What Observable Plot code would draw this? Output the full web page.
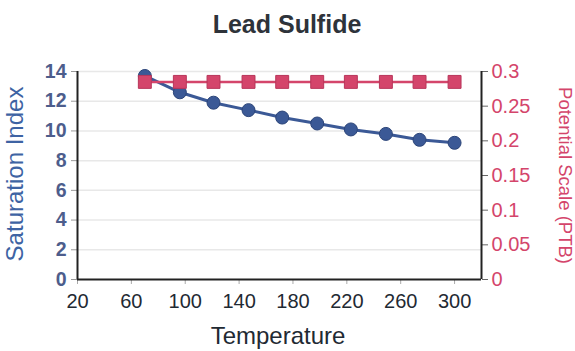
<!DOCTYPE html>
<html><head><meta charset="utf-8">
<script src="https://cdn.jsdelivr.net/npm/d3@7"></script>
<script src="https://cdn.jsdelivr.net/npm/@observablehq/plot@0.6"></script>
<style>html,body{margin:0;padding:0;background:#fff}</style>
</head><body><div id="chart"></div>
<script>
const title = "Lead Sulfide";
const xLabel = "Temperature";
const yLabel = "Saturation Index";
const y2Label = "Potential Scale (PTB)";
const temperature = [70, 96, 121, 147, 172, 198, 223, 249, 274, 300];
const saturationIndex = [13.7, 12.6, 11.9, 11.4, 10.9, 10.5, 10.1, 9.8, 9.4, 9.2];
const potentialScale = [0.285, 0.285, 0.285, 0.285, 0.285, 0.285, 0.285, 0.285, 0.285, 0.285];
const xTicks = [20, 60, 100, 140, 180, 220, 260, 300];
const yTicks = [0, 2, 4, 6, 8, 10, 12, 14];
const y2Ticks = [0, 0.05, 0.1, 0.15, 0.2, 0.25, 0.3];

const blue = "#3b5996";
const red = "#d4456b";
const yMax = 14, y2Max = 0.3;
const toY = v => v * yMax / y2Max;

const rows = temperature.map((t, i) => ({t, si: saturationIndex[i], ps: potentialScale[i]}));

const chart = Plot.plot({
  width: 575,
  height: 351,
  marginLeft: 77,
  marginRight: 94,
  marginTop: 71,
  marginBottom: 72,
  style: {fontFamily: "'Liberation Sans', Arial, sans-serif", background: "#fff"},
  x: {domain: [20, 320]},
  y: {domain: [0, yMax]},
  marks: [
    Plot.gridY(yTicks.slice(1), {stroke: "#e8e8e8", strokeOpacity: 1, strokeWidth: 1.5}),
    Plot.axisY(yTicks, {anchor: "left", tickSize: 6, tickPadding: 5, fontSize: 19.5, fontWeight: "bold",
      fill: "#4d5d8c", stroke: "#999", label: null}),
    Plot.axisY(y2Ticks, {anchor: "right", y: toY, tickFormat: d => String(d), tickSize: 6, tickPadding: 4,
      fontSize: 20, fill: red, stroke: "#666", label: null}),
    Plot.axisX(xTicks, {anchor: "bottom", tickSize: 5, tickPadding: 9, fontSize: 20, fill: "#1f2a33",
      stroke: "#aaa", label: null}),
    Plot.ruleY([0], {stroke: "#222", strokeWidth: 2}),
    Plot.ruleX([20], {stroke: "#222", strokeWidth: 2}),
    Plot.ruleX([320], {stroke: "#222", strokeWidth: 2}),
    Plot.line(rows, {x: "t", y: "si", stroke: blue, strokeWidth: 3}),
    Plot.dot(rows, {x: "t", y: "si", r: 6.5, fill: blue, stroke: "#2c4579", strokeWidth: 1}),
    Plot.line(rows, {x: "t", y: d => toY(d.ps), stroke: red, strokeWidth: 2.5}),
    Plot.dot(rows, {x: "t", y: d => toY(d.ps), symbol: "square", r: 7.3, fill: red, stroke: "#b8365a", strokeWidth: 1}),
    Plot.text([title], {frameAnchor: "top", textAnchor: "middle", dx: 7.5, dy: -39, lineAnchor: "bottom", fontSize: 25, fontWeight: "bold", fill: "#2e333a"}),
    Plot.text([xLabel], {frameAnchor: "bottom", textAnchor: "middle", dx: -1.5, dy: 64, lineAnchor: "bottom", fontSize: 24, fill: "#1f2a33"}),
    Plot.text([yLabel], {frameAnchor: "left", textAnchor: "middle", rotate: -90, dx: -62, dy: -1.5, lineAnchor: "middle", fontSize: 24, fill: "#3e63a3"}),
    Plot.text([y2Label], {frameAnchor: "right", textAnchor: "middle", rotate: 90, dx: 83, dy: 0, lineAnchor: "middle", fontSize: 18.5, fill: red})
  ]
});
document.getElementById("chart").appendChild(chart);
</script>
</body></html>
